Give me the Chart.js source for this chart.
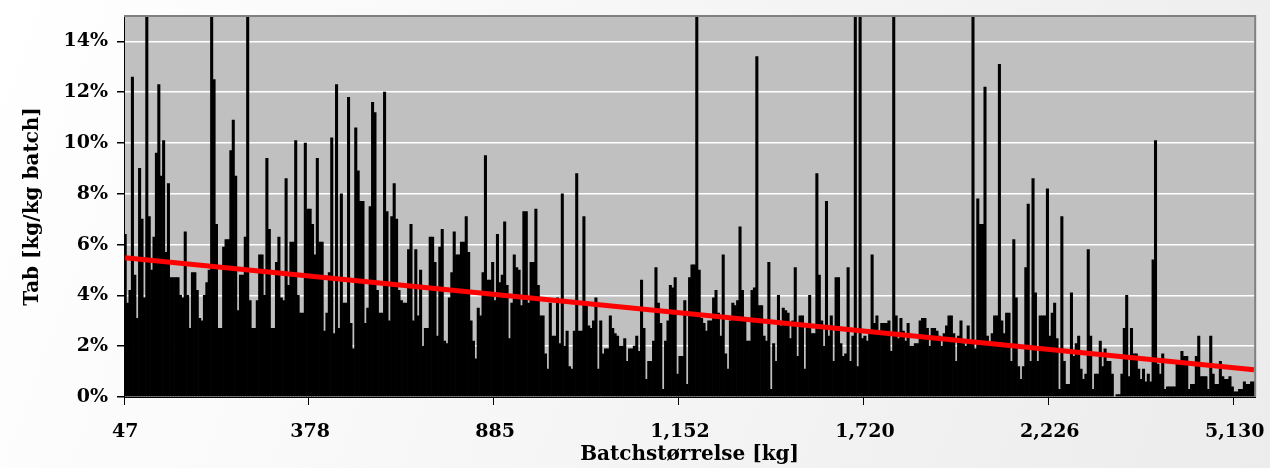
<!DOCTYPE html>
<html>
<head>
<meta charset="utf-8">
<script src="https://cdn.jsdelivr.net/npm/chart.js@4/dist/chart.umd.min.js"></script>
<style>
  html, body { margin: 0; padding: 0; background: #fff; }
</style>
</head>
<body>
<canvas id="myChart" width="1270" height="468"></canvas>
<script>
// loss per batch (%), batches sorted by size
// (values above 15 are the spikes that leave the top of the plot)
var tab = [
  6.4,3.7,4.2,12.6,4.8,3.1,9.0,7.0,3.9,16,7.1,5.0,6.3,9.6,12.3,8.7,10.1,5.7,8.4,4.7,4.7,4.7,4.7,4.0,3.9,6.5,4.0,2.7,4.9,4.9,4.2,3.1,3.0,4.0,4.5,5.0,16,12.5,6.8,2.7,2.7,5.9,6.2,6.2,9.7,10.9,8.7,3.4,4.8,4.8,6.3,16,3.8,2.7,2.7,3.8,
  5.6,5.6,4.0,9.4,6.6,2.7,2.7,5.3,6.3,3.9,3.8,8.6,4.4,6.1,6.1,10.1,4.0,3.3,3.3,10.0,7.4,7.4,6.8,5.6,9.4,6.1,6.1,2.6,3.3,4.9,10.2,2.5,12.3,2.7,8.0,3.7,3.7,11.8,2.9,1.9,10.6,8.9,7.7,7.7,2.9,3.5,7.5,11.6,11.2,4.2,3.3,3.3,12.0,7.3,3.0,7.1,8.4,7.0,4.2,3.8,
  3.7,3.7,5.8,6.8,3.0,5.8,3.2,5.0,2.0,2.7,2.7,6.3,6.3,5.3,2.4,5.9,6.6,2.2,2.1,3.9,4.9,6.5,5.6,5.6,6.1,6.1,7.1,5.7,3.0,2.2,1.5,3.5,3.2,4.9,9.5,4.6,4.6,5.3,3.8,6.4,4.5,4.8,6.9,4.4,2.3,3.7,5.6,5.1,5.0,3.6,7.3,7.3,3.7,5.3,5.3,7.4,4.4,3.2,3.2,1.7,
  1.1,3.7,2.4,2.4,3.9,2.1,8.0,2.0,2.6,1.2,1.1,2.6,8.8,2.6,2.6,7.1,3.6,2.8,2.7,3.0,3.9,1.1,3.0,1.7,1.9,1.9,3.2,2.7,2.5,2.4,2.0,2.0,2.3,1.4,1.9,1.9,2.0,2.4,1.8,4.6,2.7,0.7,1.4,1.4,2.2,5.1,3.7,2.9,0.3,2.2,3.0,4.4,4.3,4.7,0.9,1.6,1.6,3.8,0.5,4.7,5.2,
  5.2,16,5.0,3.1,2.9,2.6,3.0,3.0,3.9,4.2,3.3,2.4,5.6,1.7,1.1,3.0,3.7,3.6,3.8,6.7,4.2,3.1,2.2,2.2,4.2,4.3,13.4,3.6,3.6,2.4,2.2,5.3,0.3,2.1,1.4,4.0,2.8,3.5,3.4,3.3,2.3,3.0,5.1,1.6,3.2,3.2,1.1,2.9,4.0,2.5,2.5,8.8,4.8,3.0,2.0,7.7,2.4,3.2,1.4,4.7,
  4.7,2.1,1.6,1.7,5.1,1.4,2.4,16,1.2,16,2.3,2.4,2.2,2.6,5.6,2.9,3.2,2.6,2.9,2.9,2.9,3.0,1.8,16,3.2,2.3,3.1,2.6,2.2,2.9,2.0,2.0,2.1,2.1,3.0,3.1,3.1,2.7,2.0,2.7,2.7,2.6,2.4,2.0,2.5,2.8,3.2,3.2,2.5,1.4,2.4,3.0,2.1,2.0,2.8,2.1,16,1.9,7.8,6.8,
  6.8,12.2,2.4,2.0,2.5,3.2,3.2,13.1,3.0,2.5,3.3,3.3,1.4,6.2,3.9,1.2,0.7,1.2,5.1,7.6,1.4,8.6,4.1,1.4,3.2,3.2,3.2,8.2,2.4,3.3,3.7,2.3,0.3,7.1,1.4,0.5,0.5,4.1,1.6,2.1,2.4,1.1,0.7,0.9,5.8,2.4,0.3,0.9,0.9,2.2,1.2,1.9,1.4,1.4,0.9,0,0.1,0.1,0.9,2.7,4.0,
  0.8,2.7,1.7,1.7,1.1,0.7,1.1,0.6,0.9,0.6,5.4,10.1,1.3,0.9,1.7,0.3,0.4,0.4,0.4,0.4,1.3,1.3,1.8,1.6,1.6,0.3,0.5,0.5,1.6,2.4,0.8,0.8,0.8,0.3,2.4,0.9,0.5,0.5,1.4,0.8,0.7,0.7,0.8,0.4,0.2,0.2,0.3,0.3,0.6,0.5,0.5,0.6,0.6
];

// batch size labels shown on the x axis, one every labelEvery batches
var tickLabels = ["47", "378", "885", "1,152", "1,720", "2,226", "5,130"];
var labelEvery = 77;

// linear trend line: value at first and last batch (%)
var trendEnds = [5.48, 1.07];

var yTicks = [0, 2, 4, 6, 8, 10, 12, 14];

var labels = tab.map(function(v, i) { return i; });
var last = labels.length - 1;

var bgPlugin = {
  id: "bg",
  beforeDraw: function(chart) {
    var ctx = chart.ctx;
    var a = chart.chartArea;
    var g = ctx.createLinearGradient(0, 0, chart.width, chart.height);
    g.addColorStop(0, "#ffffff");
    g.addColorStop(1, "#ececec");
    ctx.save();
    ctx.fillStyle = g;
    ctx.fillRect(0, 0, chart.width, chart.height);
    ctx.fillStyle = "#c0c0c0";
    ctx.fillRect(a.left, a.top, a.right - a.left, a.bottom - a.top);
    ctx.restore();
  },
  afterDraw: function(chart) {
    var ctx = chart.ctx;
    var a = chart.chartArea;
    ctx.save();
    ctx.strokeStyle = "#808080";
    ctx.lineWidth = 2;
    ctx.beginPath();
    ctx.moveTo(a.left, a.top);
    ctx.lineTo(a.right, a.top);
    ctx.lineTo(a.right, a.bottom);
    ctx.stroke();
    ctx.restore();
  }
};

var tickFont = { family: "'DejaVu Serif', serif", size: 19, weight: "bold" };
var titleFont = { family: "'DejaVu Serif', serif", size: 20, weight: "bold" };

new Chart("myChart", {
  data: {
    labels: labels,
    datasets: [
      {
        type: "line",
        order: 0,
        data: [{ x: 0, y: trendEnds[0] }, { x: last, y: trendEnds[1] }],
        borderColor: "#ff0000",
        borderWidth: 5,
        pointRadius: 0,
        fill: false
      },
      {
        type: "bar",
        order: 1,
        data: tab,
        backgroundColor: "#000000",
        borderWidth: 0,
        barPercentage: 1,
        categoryPercentage: 1
      }
    ]
  },
  options: {
    responsive: false,
    animation: false,
    devicePixelRatio: 1,
    layout: { padding: { top: 16, right: 13, bottom: 0, left: 0 } },
    plugins: {
      legend: { display: false },
      tooltip: { enabled: false }
    },
    scales: {
      x: {
        type: "category",
        offset: true,
        afterFit: function(scale) { scale.height = 71; },
        grid: {
          offset: true,
          drawOnChartArea: false,
          drawTicks: true,
          tickLength: 8,
          tickColor: function(c) {
            return c.index % labelEvery === 0 ? "#000" : "rgba(0,0,0,0)";
          }
        },
        border: { display: true, color: "#000", width: 1 },
        ticks: {
          autoSkip: false,
          maxRotation: 0,
          minRotation: 0,
          padding: 16,
          color: "#000",
          font: tickFont,
          callback: function(val, i) {
            if (i % labelEvery !== 0) return "";
            return tickLabels[i / labelEvery] || "";
          }
        },
        title: {
          display: true,
          text: "Batchstørrelse [kg]",
          color: "#000",
          font: titleFont,
          padding: { top: 0, bottom: 1 }
        }
      },
      y: {
        min: 0,
        max: 15,
        afterBuildTicks: function(scale) {
          scale.ticks = yTicks.map(function(v) { return { value: v }; });
        },
        afterFit: function(scale) {
          scale.width = 124;
          scale.paddingTop = 0;
        },
        grid: {
          color: "#ffffff",
          lineWidth: 1.5,
          drawTicks: true,
          tickLength: 7,
          tickColor: "#000"
        },
        border: { display: true, color: "#000", width: 1 },
        ticks: {
          padding: 9,
          color: "#000",
          font: tickFont,
          callback: function(v) { return v + "%"; }
        },
        title: {
          display: true,
          text: "Tab [kg/kg batch]",
          color: "#000",
          font: titleFont,
          padding: { top: 21, bottom: 0 }
        }
      }
    }
  },
  plugins: [bgPlugin]
});
</script>
</body>
</html>
